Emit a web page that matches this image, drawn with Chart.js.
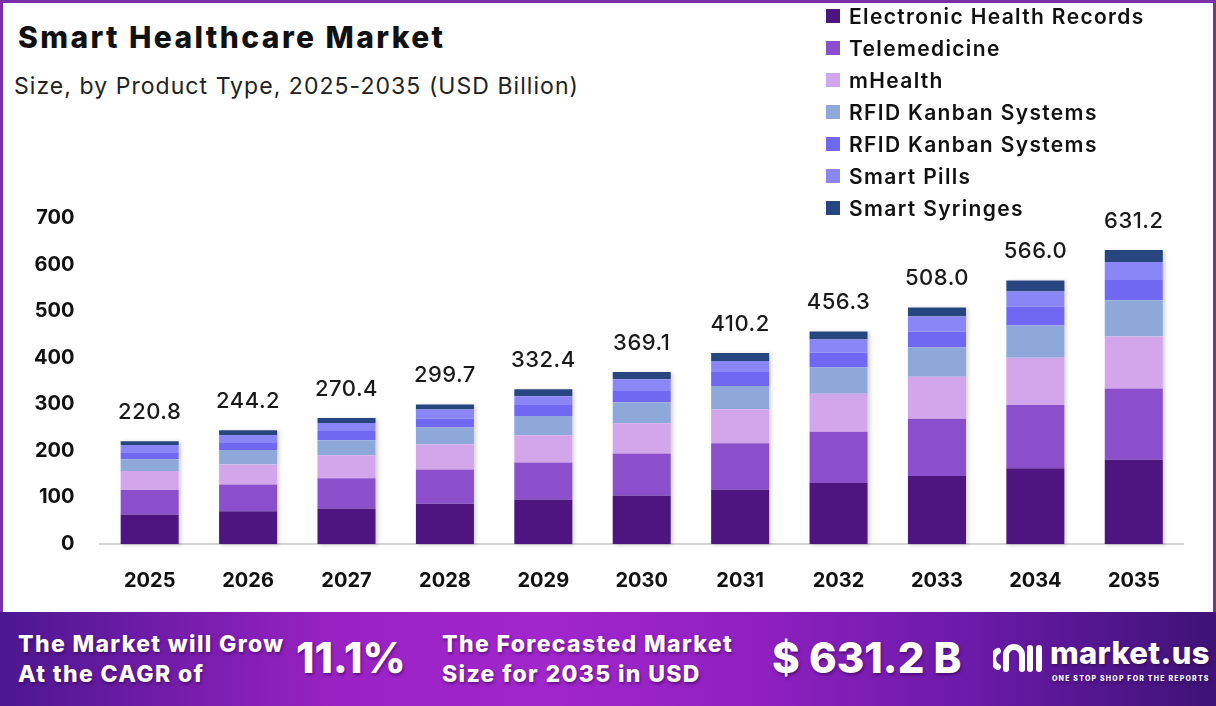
<!DOCTYPE html>
<html>
<head>
<meta charset="utf-8">
<script src="https://cdn.jsdelivr.net/npm/chart.js@4.4.1/dist/chart.umd.min.js"></script>
<style>
  html, body { margin: 0; padding: 0; }
  body { width: 1216px; height: 706px; overflow: hidden; font-family: Inter, "Open Sans", sans-serif; background: #fff; position: relative; }
  #frame { position: absolute; left: 0; top: 0; width: 1216px; height: 612px; box-sizing: border-box; border: 3px solid #7a2ea8; border-bottom: none; }
  #title { position: absolute; left: 18px; top: 19px; font-size: 30px; font-weight: 800; color: #111; letter-spacing: 2.4px; white-space: nowrap; }
  #subtitle { position: absolute; left: 14px; top: 72px; font-size: 23px; font-weight: 400; color: #222; letter-spacing: 1.05px; white-space: nowrap; }
  #chartBox { position: absolute; left: 0; top: 0; width: 1216px; height: 640px; }
  #legend { position: absolute; left: 826px; top: 0px; }
  .lg { display: flex; align-items: center; height: 32px; font-size: 21px; font-weight: 600; color: #111; letter-spacing: 1.35px; white-space: nowrap; }
  .lg span.sw { width: 14px; height: 14px; margin-right: 9px; display: inline-block; }
  #footer { position: absolute; left: 0; top: 612px; width: 1216px; height: 94px;
    background: linear-gradient(90deg, #4c1790 0%, #9a22c4 28%, #a126cc 45%, #9020c0 62%, #6a1aa8 80%, #3e1276 100%); color: #fff; }
  .ft { position: absolute; font-weight: 800; text-shadow: 1px 2px 3px rgba(40,0,60,0.5); white-space: nowrap; }
  .small { font-size: 23px; line-height: 30px; letter-spacing: 1.35px; }
  .big { font-size: 42px; }
</style>
</head>
<body>
<div id="frame"></div>
<div id="title">Smart Healthcare Market</div>
<div id="subtitle">Size, by Product Type, 2025-2035 (USD Billion)</div>
<div id="chartBox"><canvas id="chart" width="1216" height="640"></canvas></div>
<div id="legend"></div>
<div id="footer">
  <div class="ft small" style="left:18px; top:17px;">The Market will Grow<br>At the CAGR of</div>
  <div class="ft big" style="left:296px; top:20px;">11.1%</div>
  <div class="ft small" style="left:442px; top:17px;">The Forecasted Market<br>Size for 2035 in USD</div>
  <div class="ft big" style="left:772px; top:20px;">$ 631.2 B</div>
  <svg style="position:absolute; left:993px; top:28px;" width="52" height="36" viewBox="0 0 52 36">
    <path d="M5 27 A9 9 0 0 1 5 11 M13 29 V15 A8 8 0 0 1 29 15 V29 M37 8 V29 M46 8 V29" stroke="#fff" stroke-width="6" fill="none" stroke-linecap="round"/>
  </svg>
  <div class="ft" style="left:1050px; top:22px; font-size:31px; letter-spacing:0.3px;">market.us</div>
  <div class="ft" style="left:1052px; top:62px; font-size:7px; letter-spacing:1.2px;">ONE STOP SHOP FOR THE REPORTS</div>
</div>
<script>
const years = ["2025", "2026", "2027", "2028", "2029", "2030", "2031", "2032", "2033", "2034", "2035"];
const totals = [220.8, 244.2, 270.4, 299.7, 332.4, 369.1, 410.2, 456.3, 508.0, 566.0, 631.2];

const ehr      = [63.4, 70.4, 76.4, 86.2, 95.5, 103.9, 117.1, 131.0, 146.0, 162.9, 180.7];
const telemed  = [52.4, 57.5, 64.7, 74.0, 79.7, 90.5, 99.1, 109.9, 122.8, 135.8, 153.0];
const mhealth  = [41.0, 43.0, 49.6, 53.9, 58.2, 64.7, 73.3, 81.9, 90.5, 101.3, 112.1];
const rfidA    = [25.2, 31.0, 32.3, 36.0, 41.6, 45.3, 49.6, 56.0, 62.5, 69.0, 77.6];
const rfidB    = [15.0, 16.5, 19.4, 19.4, 23.7, 25.9, 30.2, 32.3, 34.5, 41.0, 45.3];
const pills    = [15.8, 15.8, 17.2, 19.4, 18.7, 23.7, 23.7, 28.0, 32.3, 32.3, 36.6];
const syringes = [8.0, 10.0, 10.8, 10.8, 15.0, 15.1, 17.2, 17.2, 19.4, 23.7, 25.9];

const seriesNames = ["Electronic Health Records", "Telemedicine", "mHealth", "RFID Kanban Systems", "RFID Kanban Systems", "Smart Pills", "Smart Syringes"];
const seriesColors = ["#4e1580", "#8b4fcc", "#d3a5ea", "#8ea8da", "#7068f2", "#8b86f6", "#27457e"];
const seriesData = [ehr, telemed, mhealth, rfidA, rfidB, pills, syringes];

// legend in html
const legendEl = document.getElementById("legend");
seriesNames.forEach((name, i) => {
  const row = document.createElement("div");
  row.className = "lg";
  row.innerHTML = '<span class="sw" style="background:' + seriesColors[i] + '"></span>' + name;
  legendEl.appendChild(row);
});

const totalLabels = {
  id: "totalLabels",
  afterDatasetsDraw(chart) {
    const ctx = chart.ctx;
    const meta = chart.getDatasetMeta(chart.data.datasets.length - 1);
    ctx.save();
    ctx.font = "500 22px Inter, sans-serif";
    ctx.fillStyle = "#1a1a1a";
    ctx.textAlign = "center";
    ctx.textBaseline = "middle";
    ctx.letterSpacing = "0.5px";
    meta.data.forEach((bar, i) => {
      ctx.fillText(totals[i].toFixed(1), bar.x, bar.y - 29);
    });
    ctx.restore();
  }
};

const barShadow = {
  id: "barShadow",
  beforeDatasetsDraw(chart) {
    const ctx = chart.ctx;
    ctx.save();
    ctx.shadowColor = "rgba(0,0,0,0.18)";
    ctx.shadowBlur = 4;
    ctx.shadowOffsetX = 2;
    ctx.shadowOffsetY = 1;
    ctx.fillStyle = "#fff";
    const top = chart.getDatasetMeta(chart.data.datasets.length - 1);
    const bottom = chart.getDatasetMeta(0);
    top.data.forEach((bar, i) => {
      const w = bar.width;
      ctx.fillRect(bar.x - w / 2, bar.y, w, bottom.data[i].base - bar.y);
    });
    ctx.restore();
  }
};

new Chart(document.getElementById("chart"), {
  type: "bar",
  data: {
    labels: years,
    datasets: seriesData.map((d, i) => ({
      label: seriesNames[i],
      data: d,
      backgroundColor: seriesColors[i],
      borderWidth: 0,
      barPercentage: 0.59,
      categoryPercentage: 1.0
    }))
  },
  options: {
    responsive: false,
    animation: false,
    layout: { padding: { top: 218, left: 8, right: 33, bottom: 22 } },
    plugins: { legend: { display: false }, tooltip: { enabled: false } },
    scales: {
      x: {
        stacked: true,
        grid: { display: false, drawTicks: false },
        border: { display: true, color: "#d4d4d4", width: 2 },
        ticks: { color: "#111", font: { family: "Inter", size: 20, weight: "bold" }, padding: 25 }
      },
      y: {
        stacked: true,
        min: 0,
        max: 700,
        grid: { display: false, drawTicks: false },
        border: { display: false },
        ticks: { stepSize: 100, color: "#111", font: { family: "Inter", size: 20, weight: "bold" }, padding: 26 }
      }
    }
  },
  plugins: [barShadow, totalLabels]
});
</script>
</body>
</html>
